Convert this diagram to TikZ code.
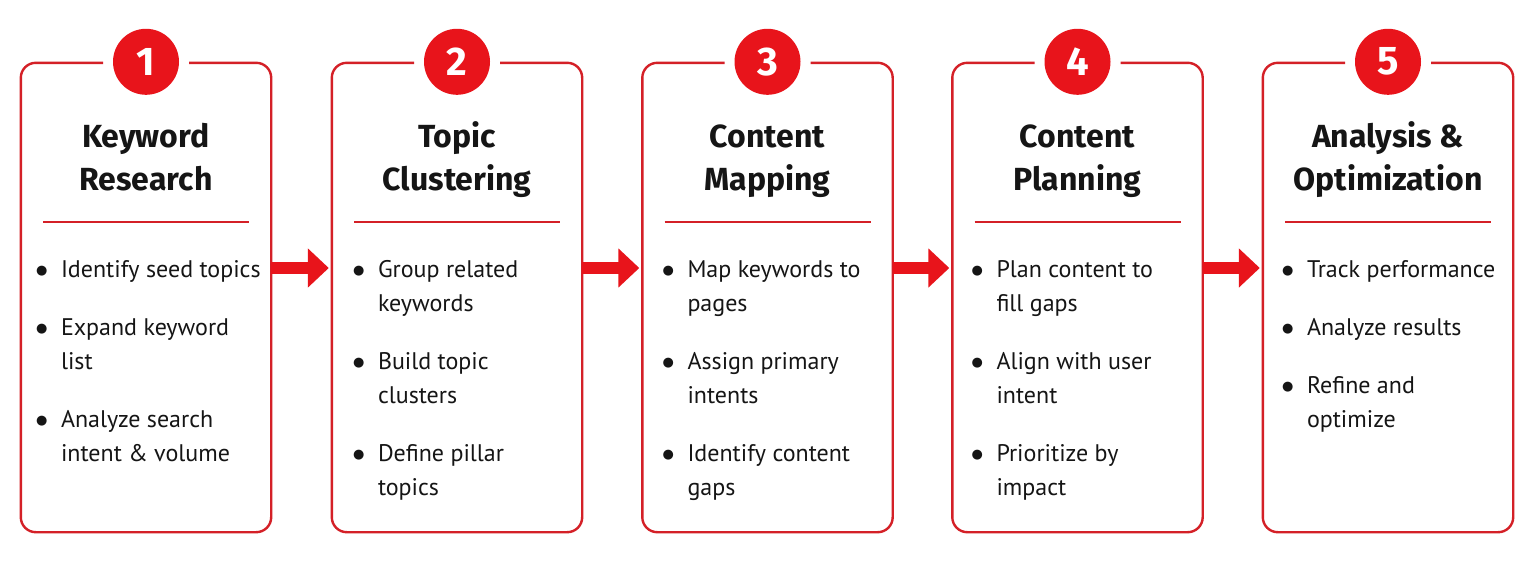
\documentclass[tikz,border=0pt]{standalone}
\usepackage{fontspec}
\setmainfont{Fira Sans}
\newfontfamily\bodyfont{PT Sans}
\newfontfamily\symfont{DejaVu Sans}
\usetikzlibrary{arrows.meta}
\definecolor{boxred}{HTML}{D42027}
\definecolor{badgered}{HTML}{E8141B}
\definecolor{ink}{HTML}{151515}
\newcommand{\bl}{\strut\makebox[25pt][l]{\raisebox{3pt}{\symfont\fontsize{13}{13}\selectfont ●}}}
\newcommand{\ind}{\hspace*{25pt}}
\tikzset{
  stagebox/.style={minimum width=250pt,minimum height=469pt,inner sep=0pt,draw=none},
  badge/.style={circle,fill=badgered,minimum size=66pt,inner sep=0pt,text=white,font=\fontsize{40}{40}\selectfont\bfseries},
  titletext/.style={align=center,inner sep=0pt,text=ink,font=\fontsize{32}{43}\selectfont\bfseries},
  itemtext/.style={align=left,inner sep=0pt,text=ink,font=\bodyfont\fontsize{24}{34}\selectfont},
  frame/.style={draw=boxred,line width=2.4pt,rounded corners=15pt},
  divider/.style={draw=boxred,line width=2pt},
  flow/.style={draw=badgered,line width=12pt,-{Triangle[length=21pt,width=38pt]},shorten >=3pt}
}
\begin{document}
\begin{tikzpicture}[x=1pt,y=-1pt]
\useasboundingbox[fill=white] (0,0) rectangle (1535,562);
% boxes
\node[stagebox] (s1) at (146,297.5) {};
\node[stagebox] (s2) at (457,297.5) {};
\node[stagebox] (s3) at (767.5,297.5) {};
\node[stagebox] (s4) at (1077.5,297.5) {};
\node[stagebox] (s5) at (1388,297.5) {};
\foreach \s in {s1,s2,s3,s4,s5}{
  \draw[frame] ([xshift=43pt]\s.north) -- (\s.north east) -- (\s.south east) -- (\s.south west) -- (\s.north west) -- ([xshift=-43pt]\s.north);
  \draw[divider] ([xshift=-103pt,yshift=-159pt]\s.north) -- ([xshift=103pt,yshift=-159pt]\s.north);
}
% badges
\node[badge] (n1) at ([yshift=1pt]s1.north) {1};
\node[badge] (n2) at ([yshift=1pt]s2.north) {2};
\node[badge] (n3) at ([yshift=1pt]s3.north) {3};
\node[badge] (n4) at ([yshift=1pt]s4.north) {4};
\node[badge] (n5) at ([yshift=1pt]s5.north) {5};
% titles
\node[titletext,anchor=north] (t1) at ([yshift=-54pt]s1.north) {\strut Keyword\\Research};
\node[titletext,anchor=north] (t2) at ([yshift=-54pt]s2.north) {\strut Topic\\Clustering};
\node[titletext,anchor=north] (t3) at ([yshift=-54pt]s3.north) {\strut Content\\Mapping};
\node[titletext,anchor=north] (t4) at ([yshift=-54pt]s4.north) {\strut Content\\Planning};
\node[titletext,anchor=north] (t5) at ([yshift=-54pt]s5.north) {\strut Analysis \&\\Optimization};
% items
\node[itemtext,anchor=north west] (l1) at ([xshift=15pt,yshift=-191pt]s1.north west)
  {\bl Identify seed topics\\[24pt]\bl Expand keyword\\\ind list\\[24pt]\bl Analyze search\\\ind intent \& volume};
\node[itemtext,anchor=north west] (l2) at ([xshift=21pt,yshift=-191pt]s2.north west)
  {\bl Group related\\\ind keywords\\[24pt]\bl Build topic\\\ind clusters\\[24pt]\bl Define pillar\\\ind topics};
\node[itemtext,anchor=north west] (l3) at ([xshift=20pt,yshift=-191pt]s3.north west)
  {\bl Map keywords to\\\ind pages\\[24pt]\bl Assign primary\\\ind intents\\[24pt]\bl Identify content\\\ind gaps};
\node[itemtext,anchor=north west] (l4) at ([xshift=19pt,yshift=-191pt]s4.north west)
  {\bl Plan content to\\\ind fill gaps\\[24pt]\bl Align with user\\\ind intent\\[24pt]\bl Prioritize by\\\ind impact};
\node[itemtext,anchor=north west] (l5) at ([xshift=19pt,yshift=-191pt]s5.north west)
  {\bl Track performance\\[24pt]\bl Analyze results\\[24pt]\bl Refine and\\\ind optimize};
% arrows
\draw[flow] ([yshift=29.5pt]s1.east) -- ([yshift=29.5pt]s2.west);
\draw[flow] ([yshift=29.5pt]s2.east) -- ([yshift=29.5pt]s3.west);
\draw[flow] ([yshift=29.5pt]s3.east) -- ([yshift=29.5pt]s4.west);
\draw[flow] ([yshift=29.5pt]s4.east) -- ([yshift=29.5pt]s5.west);
\end{tikzpicture}
\end{document}
